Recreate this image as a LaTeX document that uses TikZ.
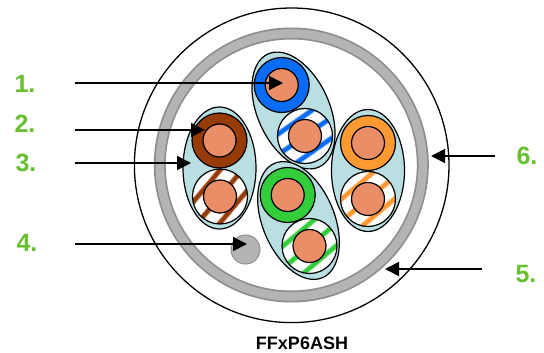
\documentclass[tikz,border=0pt]{standalone}
\usepackage{fontspec}
\setmainfont{Liberation Sans}
\usetikzlibrary{arrows.meta}
\definecolor{jelly}{HTML}{B9DFE2}
\definecolor{copper}{HTML}{E98E66}
\definecolor{ringgray}{HTML}{B4B4B4}
\definecolor{ringedge}{HTML}{8E8E8E}
\definecolor{wblue}{HTML}{0A6CF5}
\definecolor{wbrown}{HTML}{963A06}
\definecolor{worange}{HTML}{FF9A33}
\definecolor{wgreen}{HTML}{33CC3A}
\definecolor{labelgreen}{HTML}{66BF2E}
\tikzset{
  pairshell/.style={draw=black,line width=1.2pt,fill=jelly},
  wireouter/.style={circle,draw=black,line width=1.2pt,minimum size=55pt,inner sep=0pt},
  core/.style={circle,draw=black,line width=1.2pt,fill=copper,minimum size=33pt,inner sep=0pt},
  callout/.style={draw=black,line width=1.6pt,-{Triangle[length=14pt,width=14pt]}},
  numlabel/.style={text=labelgreen,font=\fontsize{25}{25}\selectfont\bfseries,inner sep=0pt},
}
\newcommand{\solidwire}[4]{%
  \node[wireouter,fill=#4] (#1) at (#2,#3) {};
  \node[core] (#1c) at (#2,#3) {};
}
\newcommand{\stripewire}[5]{%
  \begin{scope}
    \clip (#2,#3) circle (27.5);
    \fill[white] (#2,#3) circle (27.5);
    \begin{scope}[shift={(#2,#3)},rotate=#5]
      \foreach \d in {-34,-17,0,17,34}{
        \draw[#4!40,line width=6pt] (-40,\d) -- (40,\d);
        \draw[#4,line width=4pt] (-40,\d) -- (40,\d);
      }
    \end{scope}
  \end{scope}
  \node[wireouter] (#1) at (#2,#3) {};
  \node[core] (#1c) at (#2,#3) {};
}
\begin{document}
\begin{tikzpicture}[x=1pt,y=-1pt]
\useasboundingbox (0,0) rectangle (544,353);
\draw[black,line width=1.3pt] (291.7,165.3) circle (157.3);
\draw[ringedge,line width=12pt] (291.3,165) circle (131.5);
\draw[ringgray,line width=8.5pt] (291.3,165) circle (131.5);

\draw[pairshell] (219.5,168) ellipse [x radius=36.5,y radius=61];
\draw[pairshell] (368,170.5) ellipse [x radius=36.5,y radius=61];
\draw[pairshell,rotate around={24.3:(293.5,110.5)}] (293.5,110.5) ellipse [x radius=36,y radius=62];
\draw[pairshell,rotate around={22.5:(298.5,220.5)}] (298.5,220.5) ellipse [x radius=36,y radius=62];

\solidwire{blue}{281.7}{85}{wblue}
\stripewire{bluestripe}{305}{136}{wblue}{35}
\solidwire{brown}{219.5}{140.5}{wbrown}
\stripewire{brownstripe}{220}{196.5}{wbrown}{50}
\solidwire{green}{287.7}{195}{wgreen}
\stripewire{greenstripe}{309.5}{246}{wgreen}{40}
\solidwire{orange}{368}{143}{worange}
\stripewire{orangestripe}{368}{199}{worange}{40}

\node[circle,draw=ringedge,line width=1pt,fill=ringgray,minimum size=29pt,inner sep=0pt] (drain) at (245.5,249.5) {};

\node[numlabel] (l1) at (25,84) {1.};
\node[numlabel] (l2) at (25,124) {2.};
\node[numlabel] (l3) at (26,163) {3.};
\node[numlabel] (l4) at (27,243) {4.};
\node[numlabel] (l5) at (526,274) {5.};
\node[numlabel] (l6) at (527,156) {6.};
\node[font=\fontsize{18}{18}\selectfont\bfseries,inner sep=0pt] (title) at (302,343) {FFxP6ASH};

\coordinate (s1) at (75,83);   \coordinate (e1) at (283,83);
\coordinate (s2) at (75,130);  \coordinate (e2) at (205,130);
\coordinate (s3) at (75,163);  \coordinate (e3) at (191,163);
\coordinate (s4) at (75,244);  \coordinate (e4) at (247,244);
\coordinate (s5) at (482,269); \coordinate (e5) at (385,269);
\coordinate (s6) at (495,156); \coordinate (e6) at (431,156);
\foreach \i in {1,...,6}{\draw[callout] (s\i) -- (e\i);}
\end{tikzpicture}
\end{document}
